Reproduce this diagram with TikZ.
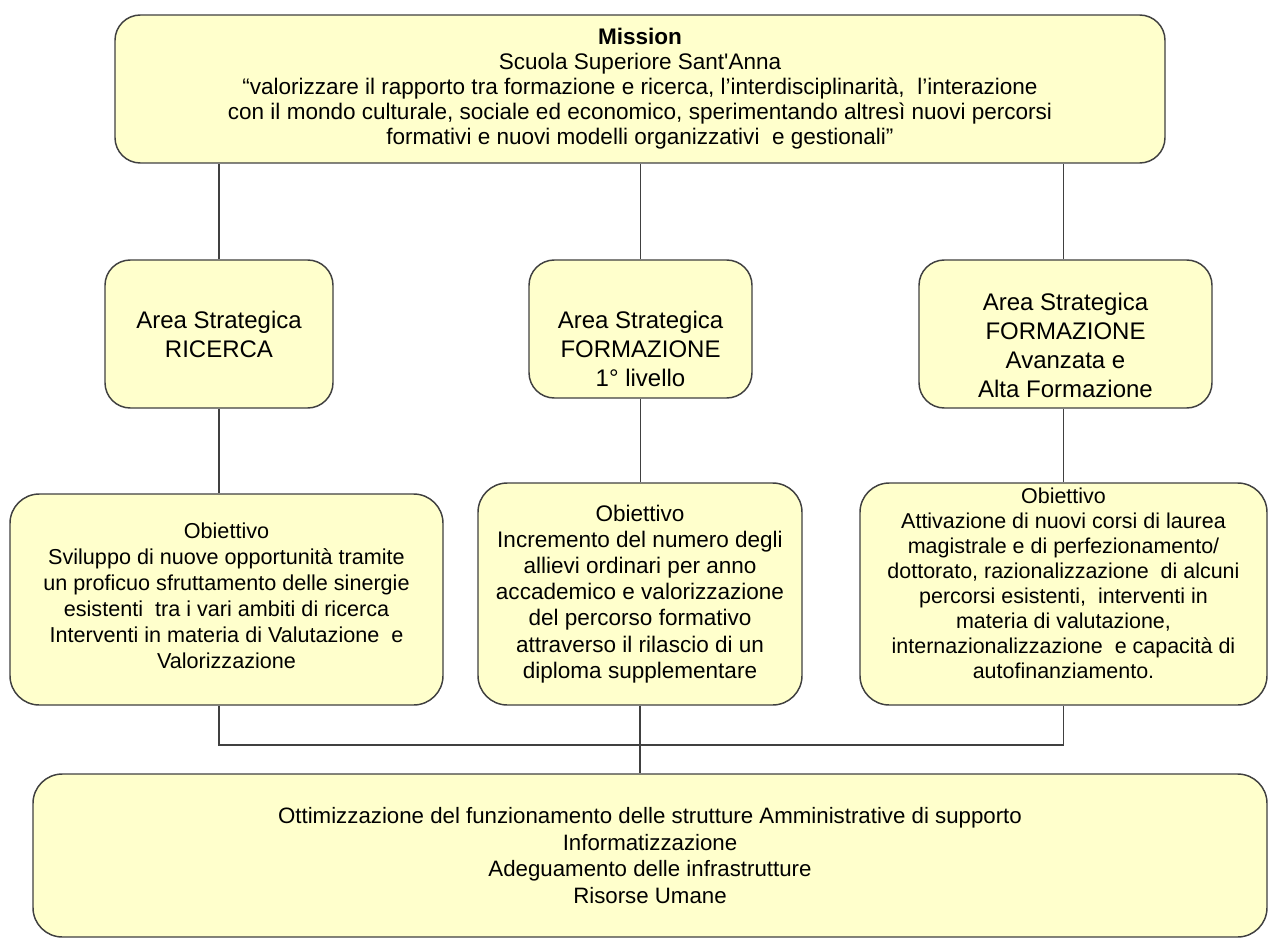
\documentclass[tikz,border=0pt]{standalone}
\usepackage{fontspec}
\setmainfont{Liberation Sans}
\usetikzlibrary{calc}
\definecolor{boxfill}{HTML}{FFFFCC}
\definecolor{boxline}{HTML}{404040}
\begin{document}
\begin{tikzpicture}[x=0.75pt,y=-0.75pt,
  box/.style={draw=boxline, fill=boxfill, line width=1.1pt, rounded corners=19pt, inner sep=0pt, align=center, text=black},
  sz/.style 2 args={minimum width=#1*0.75pt, minimum height=#2*0.75pt},
  fs/.style 2 args={font=\fontsize{#1}{#2}\selectfont},
  areaf/.style={font=\fontsize{18}{21.75}\selectfont},
  txt/.style={align=center, inner sep=0pt, text=black},
  conn/.style={draw=boxline, line width=1.1pt}]
\useasboundingbox (0,0) rectangle (1268,938);

\node[box, sz={1050}{148}, fs={16.9}{18.75}] (mission) at (640,89) {\textbf{Mission}\\Scuola Superiore Sant\textquotesingle Anna\\“valorizzare il rapporto tra formazione e ricerca, l’interdisciplinarità, \ l’interazione\\con il mondo culturale, sociale ed economico, sperimentando altresì nuovi percorsi\\formativi e nuovi modelli organizzativi \ e gestionali”};

\node[box, sz={228}{148}, areaf] (a1) at (219,334) {Area Strategica\\RICERCA};
\node[box, sz={223}{138}] (a2) at (640.5,329) {};
\node[txt, areaf] (a2t) at (640.5,349) {Area Strategica\\FORMAZIONE\\1° livello};
\node[box, sz={293}{148}] (a3) at (1065.5,334) {};
\node[txt, areaf] (a3t) at (1065.5,345.5) {Area Strategica\\FORMAZIONE\\Avanzata e\\Alta Formazione};

\node[box, sz={433}{211}, rounded corners=22pt] (o1) at (226.5,599.5) {};
\node[txt, fs={16.2}{19.5}] (o1t) at (226.5,596) {Obiettivo\\Sviluppo di nuove opportunità tramite\\un proficuo sfruttamento delle sinergie\\esistenti \ tra i vari ambiti di ricerca\\Interventi in materia di Valutazione \ e\\Valorizzazione};
\node[box, sz={324}{222}, fs={16.9}{19.6}, rounded corners=22pt] (o2) at (640,594) {Obiettivo\\Incremento del numero degli\\allievi ordinari per anno\\accademico e valorizzazione\\del percorso formativo\\attraverso il rilascio di un\\diploma supplementare};
\node[box, sz={407}{222}, rounded corners=22pt] (o3) at (1063.5,594) {};
\node[txt, fs={16.1}{18.75}] (o3t) at (1063.5,583) {Obiettivo\\Attivazione di nuovi corsi di laurea\\magistrale e di perfezionamento/\\dottorato, razionalizzazione \ di alcuni\\percorsi esistenti, \ interventi in\\materia di valutazione,\\internazionalizzazione \ e capacità di\\autofinanziamento.};

\node[box, sz={1234}{163}, fs={16.7}{19.9}, rounded corners=22pt] (bottom) at (650,855.5) {Ottimizzazione del funzionamento delle strutture Amministrative di supporto\\Informatizzazione\\Adeguamento delle infrastrutture\\Risorse Umane};

\draw[conn] (a1.north) -- (a1.north |- mission.south);
\draw[conn] (a2.north) -- (a2.north |- mission.south);
\draw[conn] (a3.north -| o3.north) -- (o3.north |- mission.south);
\draw[conn] (a1.south) -- (a1.south |- o1.north);
\draw[conn] (a2.south) -- (a2.south |- o2.north);
\draw[conn] (a3.south -| o3.north) -- (o3.north);
\coordinate (bus) at (640,745);
\draw[conn] (o1.south -| a1.south) |- (bus -| o3.south) -- (o3.south);
\draw[conn] (o2.south) -- (bottom.north -| o2.south);
\end{tikzpicture}
\end{document}
